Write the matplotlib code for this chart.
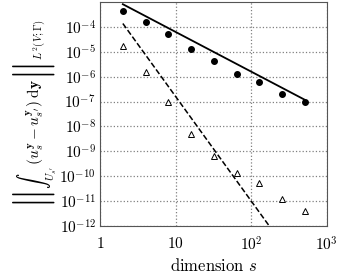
import matplotlib
matplotlib.use("Agg")
import matplotlib.pyplot as plt

plt.rcParams["font.family"] = "serif"
plt.rcParams["font.serif"] = ["cmr10", "DejaVu Serif"]
plt.rcParams["mathtext.fontset"] = "cm"
plt.rcParams["axes.formatter.use_mathtext"] = True

# dimensions
s = [2, 4, 8, 16, 32, 64, 128, 256, 512]
# error values
err_circ = [4.2e-4, 1.6e-4, 5.2e-5, 1.3e-5, 4.2e-6, 1.3e-6, 6.1e-7, 2.1e-7, 9.3e-8]
err_tri = [1.7e-5, 1.5e-6, 1.0e-7, 5.1e-9, 6.3e-10, 1.3e-10, 5.4e-11, 1.2e-11, 3.9e-12]

# fitted rate lines (end points)
fit_s = [2, 512]
fit_solid = [8.1e-4, 1.17e-7]
fit_dashed = [1.36e-4, 1.05e-14]

fig = plt.figure(figsize=(3.37, 2.78), dpi=100)
ax = fig.add_axes([0.297, 0.187, 0.673, 0.806])

ax.plot(fit_s, fit_solid, "k-", lw=1.3)
ax.plot(fit_s, fit_dashed, "k--", lw=1.1)
ax.plot(s, err_circ, "ko", ms=4, ls="none")
ax.plot(s, err_tri, "k^", ms=4.3, mfc="white", mew=0.7, ls="none")

ax.set_xscale("log")
ax.set_yscale("log")
ax.set_xlim(1, 1000)
ax.set_ylim(1e-12, 1e-3)
ax.set_xticks([1, 10, 100, 1000])
ax.set_xticklabels(["$1$", "$10$", "$10^2$", "$10^3$"])
ax.set_yticks([10.0 ** k for k in range(-12, -3)])
ax.minorticks_off()
ax.tick_params(labelsize=11, length=0, pad=3)
ax.tick_params(axis="x", pad=7)
ax.grid(True, ls=":", color="gray", lw=0.9)
for sp in ax.spines.values():
    sp.set_color("#555555")
    sp.set_linewidth(0.8)

ax.set_xlabel("dimension $s$", fontsize=12, labelpad=2)
ax.set_ylabel(r"$\left\Vert\int_{U_{s'}}\,(u_s^{\mathbf{y}}-u_{s'}^{\mathbf{y}})\;\mathrm{d}\mathbf{y}\right\Vert_{L^2(V;\Gamma)}$",
              fontsize=11, labelpad=1)

plt.savefig("out.png")
plt.close()
